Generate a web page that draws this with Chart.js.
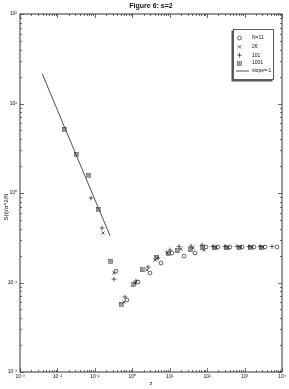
<!DOCTYPE html>
<html><head><meta charset="utf-8">
<script src="https://cdn.jsdelivr.net/npm/chart.js@4/dist/chart.umd.min.js"></script>
<style>html,body{margin:0;padding:0;background:#fff}canvas{display:block}</style>
</head><body>
<canvas id="c" width="289" height="389" style="width:289px;height:389px"></canvas>
<script>
// ---- text ----
const titleText = 'Figure 6: s=2';
const xTitle = 'z';
const yTitle = 'S(t)/σ^2/N';
// ---- tick labels ----
const xTicks = [1e-3, 1e-2, 1e-1, 1, 1e1, 1e2, 1e3, 1e4];
const xTickLabels = ['10⁻³', '10⁻²', '10⁻¹', '10⁰', '10¹', '10²', '10³', '10⁴'];
const yTicks = [1e-2, 1e-1, 1, 1e1, 1e2];
const yTickLabels = ['10⁻²', '10⁻¹', '10⁰', '10¹', '10²'];
// ---- series ----
const seriesLabels = ['N=11', '26', '101', '1001', 'slope=-1'];
const z11 = [0.367, 0.722, 1.421, 2.973, 5.848, 11.5, 24.1, 47.4, 93.2, 195, 408, 854, 1785, 3512, 7346];
const s11 = [0.134, 0.0637, 0.1013, 0.1277, 0.1651, 0.2136, 0.1978, 0.2136, 0.2492, 0.2492, 0.2492, 0.2492, 0.2492, 0.2492, 0.2492];
const z26 = [0.165, 0.325, 0.600, 1.181, 2.472, 4.045, 8.46, 20.0, 41.9, 82.4, 172, 361, 755, 1578, 3105];
const s26 = [0.357, 0.128, 0.0605, 0.0988, 0.138, 0.178, 0.214, 0.237, 0.243, 0.231, 0.243, 0.243, 0.249, 0.249, 0.249];
const z101 = [0.0788, 0.155, 0.325, 0.639, 1.256, 2.63, 4.86, 10.2, 17.7, 37.0, 72.9, 143, 300, 627, 1313, 2582, 5403];
const s101 = [0.879, 0.406, 0.109, 0.0689, 0.104, 0.149, 0.188, 0.231, 0.253, 0.255, 0.262, 0.2525, 0.2525, 0.2525, 0.2525, 0.2525, 0.2525];
const z1001 = [0.0159, 0.0333, 0.0656, 0.129, 0.254, 0.531, 1.045, 1.93, 4.57, 9.57, 16.6, 37.0, 72.9, 162, 339, 710, 1484, 2920];
const s1001 = [5.06, 2.66, 1.55, 0.646, 0.170, 0.0561, 0.0962, 0.1415, 0.188, 0.2136, 0.2307, 0.2367, 0.2492, 0.2492, 0.2492, 0.2492, 0.2492, 0.2492];
const zSlope = [0.00394, 0.254];
const sSlope = [21.4, 0.333];

const INK = '#222';
const pts = (xs, ys) => xs.map((x, i) => ({x: x, y: ys[i]}));

// boxed asterisk marker
const boxStar = document.createElement('canvas');
boxStar.width = 5; boxStar.height = 5;
(function () {
  const g = boxStar.getContext('2d');
  g.strokeStyle = '#333'; g.lineWidth = 0.6;
  g.strokeRect(0.5, 0.5, 4, 4);
  g.strokeStyle = '#555'; g.lineWidth = 0.5;
  g.beginPath();
  g.moveTo(2.5, 1); g.lineTo(2.5, 4);
  g.moveTo(1, 2.5); g.lineTo(4, 2.5);
  g.moveTo(1.3, 1.3); g.lineTo(3.7, 3.7);
  g.moveTo(3.7, 1.3); g.lineTo(1.3, 3.7);
  g.stroke();
})();

const markerSpec = [
  {style: 'circle', r: 1.9},
  {style: 'crossRot', r: 2.3},
  {style: 'cross', r: 2.4},
  {style: boxStar, r: 2.5}
];

const datasets = [
  [z11, s11], [z26, s26], [z101, s101], [z1001, s1001]
].map((d, i) => ({
  label: seriesLabels[i],
  data: pts(d[0], d[1]),
  pointStyle: markerSpec[i].style,
  pointRadius: markerSpec[i].r,
  pointHoverRadius: markerSpec[i].r,
  pointBorderColor: INK,
  pointBackgroundColor: 'rgba(0,0,0,0)',
  pointBorderWidth: 0.7,
  showLine: false
}));
datasets.push({
  label: seriesLabels[4],
  data: pts(zSlope, sSlope),
  showLine: true,
  borderColor: INK,
  borderWidth: 0.8,
  pointRadius: 0
});

function drawMarker(ctx, i, x, y) {
  const m = markerSpec[i];
  ctx.save();
  ctx.strokeStyle = INK; ctx.lineWidth = 0.7;
  ctx.beginPath();
  if (m.style === 'circle') {
    ctx.arc(x, y, m.r, 0, Math.PI * 2); ctx.stroke();
  } else if (m.style === 'crossRot') {
    const r = m.r * 0.75;
    ctx.moveTo(x - r, y - r); ctx.lineTo(x + r, y + r);
    ctx.moveTo(x + r, y - r); ctx.lineTo(x - r, y + r); ctx.stroke();
  } else if (m.style === 'cross') {
    const r = m.r;
    ctx.moveTo(x - r, y); ctx.lineTo(x + r, y);
    ctx.moveTo(x, y - r); ctx.lineTo(x, y + r); ctx.stroke();
  } else {
    ctx.drawImage(boxStar, x - 2.5, y - 2.5);
  }
  ctx.restore();
}

const decor = {
  id: 'decor',
  afterDraw(chart) {
    const ctx = chart.ctx, a = chart.chartArea;
    const xs = chart.scales.x, ys = chart.scales.y;
    ctx.save();
    ctx.strokeStyle = '#333'; ctx.lineWidth = 1;
    ctx.strokeRect(a.left, a.top, a.right - a.left, a.bottom - a.top);
    ctx.lineWidth = 0.7;
    ctx.beginPath();
    for (let e = -3; e <= 4; e++) {
      for (let k = 1; k <= 9; k++) {
        const v = k * Math.pow(10, e);
        if (v > 1e4 * 1.0001) continue;
        const px = Math.round(xs.getPixelForValue(v)) + 0.5;
        const len = k === 1 ? 4 : 2;
        ctx.moveTo(px, a.bottom); ctx.lineTo(px, a.bottom - len);
        ctx.moveTo(px, a.top); ctx.lineTo(px, a.top + len);
      }
    }
    for (let e = -2; e <= 2; e++) {
      for (let k = 1; k <= 9; k++) {
        const v = k * Math.pow(10, e);
        if (v > 1e2 * 1.0001) continue;
        const py = Math.round(ys.getPixelForValue(v)) + 0.5;
        const len = k === 1 ? 4 : 2;
        ctx.moveTo(a.left, py); ctx.lineTo(a.left + len, py);
        ctx.moveTo(a.right, py); ctx.lineTo(a.right - len, py);
      }
    }
    ctx.stroke();

    ctx.fillStyle = '#111';
    ctx.textAlign = 'center'; ctx.textBaseline = 'middle';
    ctx.font = 'bold 7px "Liberation Sans", Arial, sans-serif';
    ctx.fillText(titleText, (a.left + a.right) / 2, 6);
    ctx.font = '6px "Liberation Sans", Arial, sans-serif';
    ctx.fillText(xTitle, (a.left + a.right) / 2, 383);
    ctx.save();
    ctx.translate(6, (a.top + a.bottom) / 2 + 14);
    ctx.rotate(-Math.PI / 2);
    ctx.fillText(yTitle, 0, 0);
    ctx.restore();

    const L = 233, T = 29, W = 41, H = 51;
    ctx.fillStyle = '#555';
    ctx.fillRect(L - 1.5, T + 1.5, W, H);
    ctx.fillStyle = '#fff';
    ctx.fillRect(L, T, W, H);
    ctx.strokeStyle = '#333'; ctx.lineWidth = 0.8;
    ctx.strokeRect(L + 0.5, T + 0.5, W - 1, H - 1);
    const rows = [38, 46.8, 55.2, 63, 71];
    ctx.font = '5px "Liberation Sans", Arial, sans-serif';
    ctx.textAlign = 'left'; ctx.fillStyle = '#111';
    for (let i = 0; i < 5; i++) {
      if (i < 4) drawMarker(ctx, i, 239.5, rows[i]);
      else {
        ctx.beginPath(); ctx.strokeStyle = INK; ctx.lineWidth = 0.8;
        ctx.moveTo(236, rows[i]); ctx.lineTo(249, rows[i]); ctx.stroke();
      }
      ctx.fillText(seriesLabels[i], 252, rows[i]);
    }
    ctx.restore();
  }
};

new Chart(document.getElementById('c'), {
  type: 'scatter',
  data: {datasets: datasets},
  options: {
    responsive: false,
    animation: false,
    devicePixelRatio: 1,
    layout: {padding: {left: 0, right: 7, top: 14, bottom: 0}},
    plugins: {legend: {display: false}, tooltip: {enabled: false}, title: {display: false}},
    scales: {
      x: {
        type: 'logarithmic', min: 1e-3, max: 1e4,
        grid: {display: false, drawTicks: false},
        border: {display: false},
        afterBuildTicks: s => { s.ticks = xTicks.map(v => ({value: v})); },
        afterFit: s => { s.height = 17; },
        ticks: {
          autoSkip: false, maxRotation: 0, padding: 2,
          font: {size: 5, family: '"Liberation Sans", Arial, sans-serif'}, color: '#111',
          callback: (v) => { const i = xTicks.findIndex(t => Math.abs(t - v) / t < 1e-6); return i >= 0 ? xTickLabels[i] : ''; }
        }
      },
      y: {
        type: 'logarithmic', min: 1e-2, max: 1e2,
        grid: {display: false, drawTicks: false},
        border: {display: false},
        afterBuildTicks: s => { s.ticks = yTicks.map(v => ({value: v})); },
        afterFit: s => { s.width = 20; },
        ticks: {
          autoSkip: false, padding: 3,
          font: {size: 5, family: '"Liberation Sans", Arial, sans-serif'}, color: '#111',
          callback: (v) => { const i = yTicks.findIndex(t => Math.abs(t - v) / t < 1e-6); return i >= 0 ? yTickLabels[i] : ''; }
        }
      }
    }
  },
  plugins: [decor]
});
</script>
</body></html>
